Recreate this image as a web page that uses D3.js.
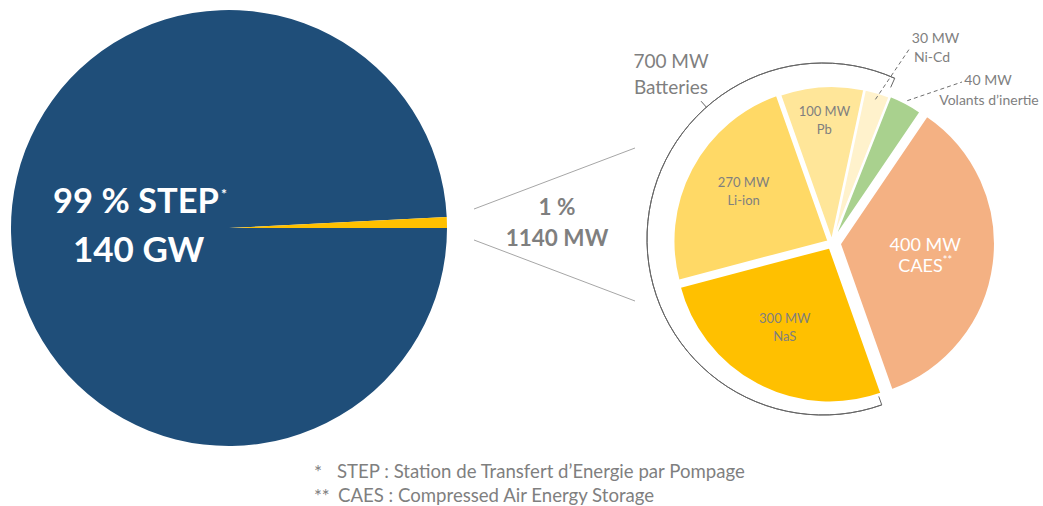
<!DOCTYPE html>
<html>
<head>
<meta charset="utf-8">
<script src="https://cdn.jsdelivr.net/npm/d3@7"></script>
<style>
  html, body { margin: 0; padding: 0; background: #fff; }
  svg { display: block; font-family: Lato, "Open Sans", sans-serif; }
</style>
</head>
<body>
<svg id="chart" width="1043" height="506"></svg>
<script>
// ---- data ----
const overviewCategories = ["STEP", "Autres"];
const overviewValues = [140000, 1140];           // MW
const overviewLabels = ["99 % STEP", "140 GW"];
const otherLabels = ["1 %", "1140 MW"];

const detailCategories = ["Pb", "Ni-Cd", "Volants d’inertie", "CAES", "NaS", "Li-ion"];
const detailValues = [100, 30, 40, 400, 300, 270];   // MW
const detailLabels = ["100 MW", "30 MW", "40 MW", "400 MW", "300 MW", "270 MW"];
const batteryCategories = ["Pb", "Ni-Cd", "NaS", "Li-ion"];
const batteryLabels = ["700 MW", "Batteries"];
const footnotes = [["*", "STEP : Station de Transfert d’Energie par Pompage"],
                   ["**", "CAES : Compressed Air Energy Storage"]];

// ---- styles ----
const overviewColors = {"STEP": "#1f4e79", "Autres": "#ffc000"};
const detailColors = {"Pb": "#ffe699", "Ni-Cd": "#fff2cc", "Volants d’inertie": "#a9d18e",
                      "CAES": "#f4b183", "NaS": "#ffc000", "Li-ion": "#ffd966"};
const explode = {"Pb": 2, "Ni-Cd": 2, "Volants d’inertie": 3, "CAES": 8, "NaS": 5, "Li-ion": 4};
const grey = "#7f7f7f";
const deg = Math.PI / 180;

const svg = d3.select("#chart");
svg.append("rect").attr("width", 1043).attr("height", 506).attr("fill", "#fff");

// ---- left pie ----
const L = {cx: 229, cy: 228, r: 218};
const overviewPie = d3.pie().sort(null).value(d => d.v)
  .startAngle(Math.PI / 2).endAngle(Math.PI / 2 + 2 * Math.PI);
const overviewData = overviewCategories.map((c, i) => ({c, v: overviewValues[i]}));
const gL = svg.append("g").attr("transform", `translate(${L.cx},${L.cy})`);
const arcL = d3.arc().innerRadius(0).outerRadius(L.r);
gL.selectAll("path").data(overviewPie(overviewData)).join("path")
  .attr("d", arcL).attr("fill", d => overviewColors[d.data.c]);

const t1 = svg.append("text").attr("x", 53).attr("y", 213)
  .attr("fill", "#fff").attr("font-weight", 700).attr("font-size", 34.5)
  .text(overviewLabels[0]);
t1.append("tspan").attr("dy", -14).attr("dx", 2).attr("font-size", 14).text("*");
svg.append("text").attr("x", 73).attr("y", 262)
  .attr("fill", "#fff").attr("font-weight", 700).attr("font-size", 35)
  .text(overviewLabels[1]);

// ---- connectors ----
const conn = [[[474, 209], [635, 148]], [[474, 240], [635, 301]]];
svg.selectAll("line.conn").data(conn).join("line").attr("class", "conn")
  .attr("x1", d => d[0][0]).attr("y1", d => d[0][1])
  .attr("x2", d => d[1][0]).attr("y2", d => d[1][1])
  .attr("stroke", "#a6a6a6").attr("stroke-width", 1);
svg.selectAll("text.mid").data(otherLabels).join("text").attr("class", "mid")
  .attr("x", 557).attr("y", (d, i) => 215 + i * 31)
  .attr("text-anchor", "middle").attr("fill", grey)
  .attr("font-weight", 700).attr("font-size", 22.5).text(d => d);

// ---- right pie ----
const R = {cx: 832, cy: 243, r: 155};
const detailPie = d3.pie().sort(null).value(d => d.v)
  .startAngle(-19.5 * deg).endAngle(-19.5 * deg + 2 * Math.PI);
const detailData = detailPie(detailCategories.map((c, i) => ({c, v: detailValues[i], label: detailLabels[i]})));
const arcR = d3.arc().innerRadius(0).outerRadius(R.r);
const gR = svg.append("g").attr("transform", `translate(${R.cx},${R.cy})`);
const mid = d => (d.startAngle + d.endAngle) / 2;
const slices = gR.selectAll("g.slice").data(detailData).join("g").attr("class", "slice")
  .attr("transform", d => {
    const e = explode[d.data.c], a = mid(d);
    return `translate(${e * Math.sin(a)},${-e * Math.cos(a)})`;
  });
slices.append("path").attr("d", arcR)
  .attr("fill", d => detailColors[d.data.c])
  .attr("stroke", "#fff").attr("stroke-width", 2).attr("stroke-linejoin", "round");

// inner labels
const inner = detailData.filter(d => ["Pb", "Li-ion", "NaS", "CAES"].includes(d.data.c));
const labelR = d => d.data.c === "Pb" ? 116 : (d.data.c === "CAES" ? 86 : 96);
inner.forEach(d => {
  const a = mid(d), e = explode[d.data.c], rr = labelR(d) + e;
  const big = d.data.c === "CAES";
  const x = rr * Math.sin(a), y = -rr * Math.cos(a) + (big ? 6 : 0);
  const g = gR.append("g").attr("transform", `translate(${x},${y})`);
  const fs = big ? 18 : 13, half = big ? 10.5 : 9;
  g.append("text").attr("text-anchor", "middle").attr("y", -half)
    .attr("fill", big ? "#fff" : grey).attr("font-size", fs).text(d.data.label);
  const t = g.append("text").attr("text-anchor", "middle").attr("y", half)
    .attr("fill", big ? "#fff" : grey).attr("font-size", fs).text(d.data.c);
  if (big) t.append("tspan").attr("dy", -8).attr("font-size", 11).text("**");
});

// outer labels with dashed leaders
const outer = [
  {c: "Ni-Cd", from: 148, to: [910, 48], text: [935.5, 43], sub: [932, 62]},
  {c: "Volants d’inertie", from: 158, to: [962, 82], text: [988, 85], sub: [989, 105]}
];
outer.forEach(o => {
  const d = detailData.find(s => s.data.c === o.c);
  const a = mid(d), e = explode[o.c];
  const x1 = R.cx + (o.from + e) * Math.sin(a), y1 = R.cy - (o.from + e) * Math.cos(a);
  svg.append("line").attr("x1", x1).attr("y1", y1).attr("x2", o.to[0]).attr("y2", o.to[1])
    .attr("stroke", "#6f6f6f").attr("stroke-width", 1).attr("stroke-dasharray", "4,3");
  svg.append("text").attr("x", o.text[0]).attr("y", o.text[1]).attr("text-anchor", "middle")
    .attr("fill", grey).attr("font-size", 14).text(d.data.label);
  svg.append("text").attr("x", o.sub[0]).attr("y", o.sub[1])
    .attr("text-anchor", "middle").attr("fill", grey).attr("font-size", 14).text(o.c);
});

// batteries bracket arc
const bat = detailData.filter(d => batteryCategories.includes(d.data.c));
const batStart = d3.min(bat.filter(d => d.startAngle > Math.PI / 2), d => d.startAngle);
const batEnd = d3.max(bat.filter(d => d.startAngle < Math.PI / 2), d => d.endAngle) + 2 * Math.PI + 2.5 * deg;
const B = {cx: 823, cy: 239, r: 176};
const gB = svg.append("g").attr("transform", `translate(${B.cx},${B.cy})`);
gB.append("path")
  .attr("d", d3.arc()({innerRadius: B.r, outerRadius: B.r, startAngle: batStart, endAngle: batEnd}).split("L")[0])
  .attr("fill", "none").attr("stroke", "#666").attr("stroke-width", 1);
const tick = (a, r1, r2) => gB.append("line")
  .attr("x1", r1 * Math.sin(a)).attr("y1", -r1 * Math.cos(a))
  .attr("x2", r2 * Math.sin(a)).attr("y2", -r2 * Math.cos(a))
  .attr("stroke", "#666").attr("stroke-width", 1);
tick(batStart, B.r, B.r - 9);
tick(batEnd, B.r, B.r - 10);
tick(318.5 * deg, B.r, B.r + 8);
svg.selectAll("text.bat").data(batteryLabels).join("text").attr("class", "bat")
  .attr("x", 671).attr("y", (d, i) => 68 + i * 26).attr("text-anchor", "middle")
  .attr("fill", grey).attr("font-size", 19).text(d => d);

// footnotes
footnotes.forEach((f, i) => {
  svg.append("text").attr("x", 314).attr("y", 479 + i * 24).attr("fill", grey)
    .attr("font-size", i === 0 ? 19 : 18.5).text(f[0]);
  svg.append("text").attr("x", i === 0 ? 337 : 338).attr("y", 478 + i * 24).attr("fill", grey)
    .attr("font-size", 18.6).text(f[1]);
});
</script>
</body>
</html>
